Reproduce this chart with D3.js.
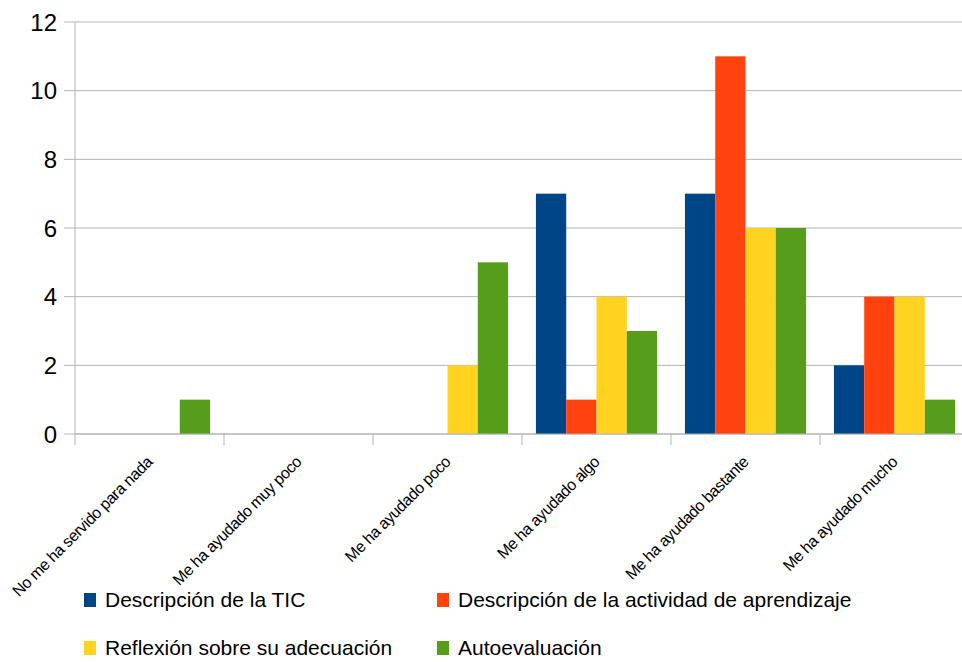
<!DOCTYPE html>
<html>
<head>
<meta charset="utf-8">
<script src="https://cdn.jsdelivr.net/npm/d3@7"></script>
<style>
  body { margin: 0; background: #fff; }
  text { font-family: "Liberation Sans", Arial, sans-serif; }
</style>
</head>
<body>
<div id="chart"></div>
<script>
// ***** Data *****
var categories = [
    "No me ha servido para nada",
    "Me ha ayudado muy poco",
    "Me ha ayudado poco",
    "Me ha ayudado algo",
    "Me ha ayudado bastante",
    "Me ha ayudado mucho"
];
var seriesNames = [
    "Descripción de la TIC",
    "Descripción de la actividad de aprendizaje",
    "Reflexión sobre su adecuación",
    "Autoevaluación"
];
var ticValues = [0, 0, 0, 7, 7, 2];
var actividadValues = [0, 0, 0, 1, 11, 4];
var reflexionValues = [0, 0, 2, 4, 6, 4];
var autoevalValues = [1, 0, 5, 3, 6, 1];
var yTicks = [0, 2, 4, 6, 8, 10, 12];
var colors = ["#004586", "#ff420e", "#ffd320", "#579d1c"];

var allSeries = [ticValues, actividadValues, reflexionValues, autoevalValues];

// ***** Sizes *****
var svgWidth = 962;
var svgHeight = 662;
var margin = { top: 22, right: -7, bottom: 228, left: 75 };
var width = svgWidth - margin.left - margin.right;   // plot spans 75..969
var height = svgHeight - margin.top - margin.bottom; // 22..434

var svg = d3.select("#chart").append("svg")
    .attr("width", svgWidth)
    .attr("height", svgHeight);

var chartGroup = svg.append("g")
    .attr("transform", `translate(${margin.left}, ${margin.top})`);

// scales
var x0 = d3.scaleBand().domain(categories).range([0, 894]);
var x1 = d3.scaleBand().domain(seriesNames).range([0, x0.bandwidth()]).paddingOuter(0.46);
var y = d3.scaleLinear().domain([0, 12]).range([height, 0]);

// gridlines + y tick marks
chartGroup.selectAll(".grid")
    .data(yTicks)
    .enter()
    .append("line")
    .attr("x1", -11)
    .attr("x2", 894)
    .attr("y1", d => y(d))
    .attr("y2", d => y(d))
    .attr("stroke", "#b3b3b3")
    .attr("stroke-width", 1);

// y tick labels
chartGroup.selectAll(".ylab")
    .data(yTicks)
    .enter()
    .append("text")
    .attr("x", -18)
    .attr("y", d => y(d))
    .attr("dy", "0.36em")
    .attr("text-anchor", "end")
    .attr("font-size", "24px")
    .attr("fill", "#000")
    .text(d => d);

// bars
var groups = chartGroup.selectAll(".cat")
    .data(categories)
    .enter()
    .append("g")
    .attr("transform", d => `translate(${x0(d)}, 0)`);

groups.selectAll("rect")
    .data((d, i) => seriesNames.map((s, j) => ({ name: s, value: allSeries[j][i], idx: j })))
    .enter()
    .append("rect")
    .attr("x", d => x1(d.name))
    .attr("y", d => y(d.value))
    .attr("width", x1.bandwidth())
    .attr("height", d => height - y(d.value))
    .attr("fill", d => colors[d.idx]);

// y axis line
chartGroup.append("line")
    .attr("x1", 0).attr("x2", 0)
    .attr("y1", 0).attr("y2", height + 11)
    .attr("stroke", "#b3b3b3");

// x axis line + category ticks
chartGroup.append("line")
    .attr("x1", 0).attr("x2", 894)
    .attr("y1", height).attr("y2", height)
    .attr("stroke", "#b3b3b3");

chartGroup.selectAll(".xtick")
    .data(categories.slice(1).map(d => x0(d)).concat([894]))
    .enter()
    .append("line")
    .attr("x1", d => d).attr("x2", d => d)
    .attr("y1", height).attr("y2", height + 11)
    .attr("stroke", "#b3b3b3");

// x labels rotated
chartGroup.selectAll(".xlab")
    .data(categories)
    .enter()
    .append("text")
    .attr("transform", d => `translate(${x0(d) + x0.bandwidth() / 2 + 4}, ${height + 29}) rotate(-45)`)
    .attr("text-anchor", "end")
    .attr("font-size", "16px")
    .attr("letter-spacing", "-0.45px")
    .attr("fill", "#000")
    .text(d => d);

// legend
var legendPos = [[84, 600], [437, 600], [84, 648], [437, 648]];
var legend = svg.selectAll(".legend")
    .data(seriesNames)
    .enter()
    .append("g")
    .attr("transform", (d, i) => `translate(${legendPos[i][0]}, ${legendPos[i][1]})`);

legend.append("rect")
    .attr("x", 0)
    .attr("y", -7)
    .attr("width", 12)
    .attr("height", 14)
    .attr("fill", (d, i) => colors[i]);

legend.append("text")
    .attr("x", 21)
    .attr("y", 0)
    .attr("dy", "0.35em")
    .attr("font-size", "21px")
    .attr("fill", "#000")
    .text(d => d);
</script>
</body>
</html>
